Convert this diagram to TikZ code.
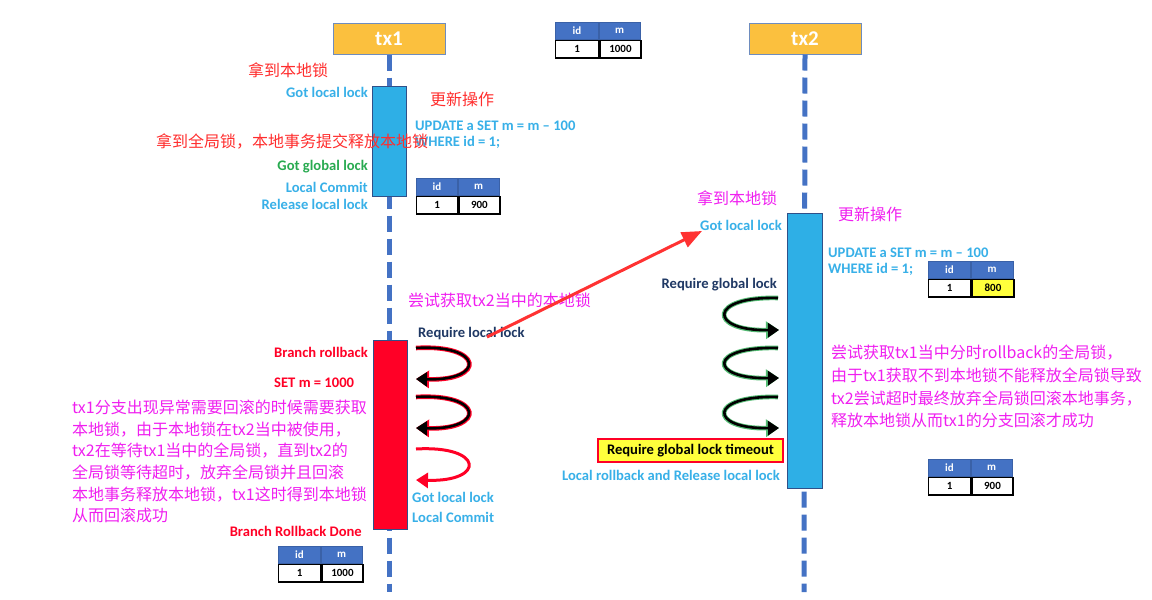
\documentclass[tikz,border=0pt]{standalone}
\usepackage{fontspec}
\setmainfont{Carlito}
\newfontfamily\cjkf{Noto Sans CJK SC}
\usetikzlibrary{arrows.meta}
\definecolor{lblue}{RGB}{56,176,232}
\definecolor{barblue}{RGB}{46,175,230}
\definecolor{lineblue}{RGB}{68,114,196}
\definecolor{hdrorange}{RGB}{251,192,62}
\definecolor{hdrborder}{RGB}{110,140,190}
\definecolor{txtred}{RGB}{255,45,45}
\definecolor{mag}{RGB}{240,30,240}
\definecolor{crim}{RGB}{255,0,38}
\definecolor{gglobal}{RGB}{40,170,80}
\definecolor{navy}{RGB}{31,56,100}
\definecolor{tyellow}{RGB}{255,255,60}
\definecolor{arrred}{RGB}{255,50,50}
\newcommand\mytable[7]{%
  \node[thcell, minimum width=#4, anchor=north west] (#1a) at (#2,#3) {id};
  \node[thcell, minimum width=#5, anchor=north west] (#1b) at (#1a.north east) {m};
  \node[tdcell, minimum width=#4, anchor=north west] (#1c) at (#1a.south west) {1};
  \node[tdcell, minimum width=#5, anchor=north west, fill=#7] (#1d) at (#1c.north east) {#6};
}
\begin{document}
\begin{tikzpicture}[x=1pt,y=-1pt,
  lbl/.style={inner sep=0, font=\fontsize{14.6}{16}\selectfont\bfseries},
  cn/.style={inner sep=0, font=\cjkf\fontsize{16}{21.6}\selectfont, align=left},
  hdr/.style={draw=hdrborder, line width=1, fill=hdrorange, minimum width=112, minimum height=31, inner sep=0, text=white, font=\fontsize{21}{24}\selectfont\bfseries},
  lifeline/.style={draw=lineblue, line width=5, dash pattern=on 16 off 7},
  bar/.style={draw=lineblue!70!black, line width=0.8, inner sep=0, minimum width=34},
  thcell/.style={draw=lineblue!85!black, line width=0.8, fill=lineblue, text=white, minimum height=17, inner sep=0, font=\fontsize{11}{12}\selectfont\bfseries},
  tdcell/.style={draw=black, line width=1.3, minimum height=17.5, inner sep=0, font=\fontsize{11}{12}\selectfont\bfseries},
  redarc/.style={draw=crim, line width=4.6, -{Triangle[length=13,width=17]}},
  blackarc/.style={draw=black, line width=2.6, -{Triangle[length=11,width=14]}},
  greenarc/.style={draw=gglobal!80!white, line width=4.6, -{Triangle[length=13,width=17]}},
  plainred/.style={draw=crim, line width=3, -{Triangle[length=12,width=15]}}
]
\useasboundingbox (0,0) rectangle (1152,600);
\fill[white] (0,0) rectangle (1152,600);

% headers
\node[hdr] (tx1) at (389,38.5) {tx1};
\node[hdr] (tx2) at (805,38.5) {tx2};
\coordinate (e1) at (389,592);
\coordinate (e2) at (804,592);
\draw[lifeline] (tx1.south) -- (e1);
\draw[lifeline] (tx2.south) -- (e2);

% bars
\node[bar, fill=barblue, minimum height=110, anchor=north] (b1) at (389.5,86) {};
\node[bar, fill=crim, minimum height=189, anchor=north] (r1) at (390,340) {};
\node[bar, fill=barblue, minimum width=35, minimum height=275, anchor=north] (b2) at (804.5,213) {};

% tables
\mytable{ta}{555}{22}{43}{41}{1000}{white}
\mytable{tb}{416}{178}{41}{41}{900}{white}
\mytable{tc}{928}{261}{42}{42}{800}{tyellow}
\mytable{td}{928}{459}{42}{41}{900}{white}
\mytable{te}{278}{546}{42}{41}{1000}{white}

% tx1 upper labels
\node[cn, text=txtred, anchor=west] (c1) at (248,70) {拿到本地锁};
\node[lbl, text=lblue, anchor=east] (l1) at (368,92) {Got local lock};
\node[cn, text=txtred, anchor=west] (c2) at (430,99) {更新操作};
\node[lbl, text=lblue, anchor=west] (l2) at (415,126) {UPDATE a SET m = m – 100};
\node[lbl, text=lblue, anchor=west] (l3) at (415,142) {WHERE id = 1;};
\node[cn, text=txtred, anchor=west] (c3) at (156,141) {拿到全局锁，本地事务提交释放本地锁};
\node[lbl, text=gglobal, anchor=east] (l4) at (368,167) {Got global lock};
\node[lbl, text=lblue, anchor=east] (l5) at (368,187) {Local Commit};
\node[lbl, text=lblue, anchor=east] (l6) at (368,204) {Release local lock};

% tx2 upper labels
\node[cn, text=mag, anchor=west] (c4) at (697,198) {拿到本地锁};
\node[lbl, text=lblue, anchor=west] (l7) at (700,225) {Got local lock};
\node[cn, text=mag, anchor=west] (c5) at (838,214) {更新操作};
\node[lbl, text=lblue, anchor=west] (l8) at (828,253) {UPDATE a SET m = m – 100};
\node[lbl, text=lblue, anchor=west] (l9) at (828,269) {WHERE id = 1;};

% middle
\node[cn, text=mag, anchor=west] (c6) at (408,300) {尝试获取tx2当中的本地锁};
\node[lbl, text=navy, anchor=west] (l10) at (418,334) {Require local lock};
\node[lbl, text=crim, anchor=west] (l11) at (274,352) {Branch rollback};
\node[lbl, text=crim, anchor=west] (l12) at (274,383) {SET m = 1000};
\node[cn, text=mag, anchor=north west] (c7) at (72,400) {tx1分支出现异常需要回滚的时候需要获取\\本地锁，由于本地锁在tx2当中被使用，\\tx2在等待tx1当中的全局锁，直到tx2的\\全局锁等待超时，放弃全局锁并且回滚\\本地事务释放本地锁，tx1这时得到本地锁\\从而回滚成功};
\node[lbl, text=lblue, anchor=west] (l13) at (412,497) {Got local lock};
\node[lbl, text=lblue, anchor=west] (l14) at (412,517) {Local Commit};
\node[lbl, text=crim, anchor=east] (l15) at (362,531) {Branch Rollback Done};

% tx2 lower
\node[lbl, text=navy, anchor=east] (l16) at (777,285) {Require global lock};
\node[draw=crim, line width=1.3, fill=tyellow, minimum width=185, minimum height=23, inner sep=0, font=\fontsize{14.6}{16}\selectfont\bfseries] (to) at (690.5,450.5) {Require global lock timeout};
\node[lbl, text=lblue, anchor=east] (l17) at (780,475) {Local rollback and Release local lock};
\node[cn, text=mag, anchor=north west, font=\cjkf\fontsize{16}{22.6}\selectfont] (c8) at (831,345) {尝试获取tx1当中分时rollback的全局锁，\\由于tx1获取不到本地锁不能释放全局锁导致\\tx2尝试超时最终放弃全局锁回滚本地事务，\\释放本地锁从而tx1的分支回滚才成功};

% tx1 curved arrows
\coordinate (a1s) at (416,348); \coordinate (a1e) at (416,379);
\coordinate (a2s) at (416,397); \coordinate (a2e) at (416,428);
\coordinate (a3s) at (416,449); \coordinate (a3e) at (416,480);
\draw[redarc] (a1s) .. controls (484,344) and (486,381) .. (a1e);
\draw[blackarc] (a1s) .. controls (484,344) and (486,381) .. (a1e);
\draw[redarc] (a2s) .. controls (484,393) and (486,430) .. (a2e);
\draw[blackarc] (a2s) .. controls (484,393) and (486,430) .. (a2e);
\draw[plainred] (a3s) .. controls (484,445) and (486,482) .. (a3e);

% tx2 curved arrows
\coordinate (g1s) at (778,298); \coordinate (g1e) at (779,330);
\coordinate (g2s) at (778,348); \coordinate (g2e) at (779,378);
\coordinate (g3s) at (778,397); \coordinate (g3e) at (779,428);
\draw[greenarc] (g1s) .. controls (708,296) and (708,331) .. (g1e);
\draw[blackarc] (g1s) .. controls (708,296) and (708,331) .. (g1e);
\draw[greenarc] (g2s) .. controls (708,346) and (708,379) .. (g2e);
\draw[blackarc] (g2s) .. controls (708,346) and (708,379) .. (g2e);
\draw[greenarc] (g3s) .. controls (708,395) and (708,429) .. (g3e);
\draw[blackarc] (g3s) .. controls (708,395) and (708,429) .. (g3e);

% long red arrow
\coordinate (ra) at (487,337);
\coordinate (rb) at (702,231);
\draw[arrred, line width=3, -{Triangle[length=20,width=16]}] (ra) -- (rb);
\end{tikzpicture}
\end{document}
